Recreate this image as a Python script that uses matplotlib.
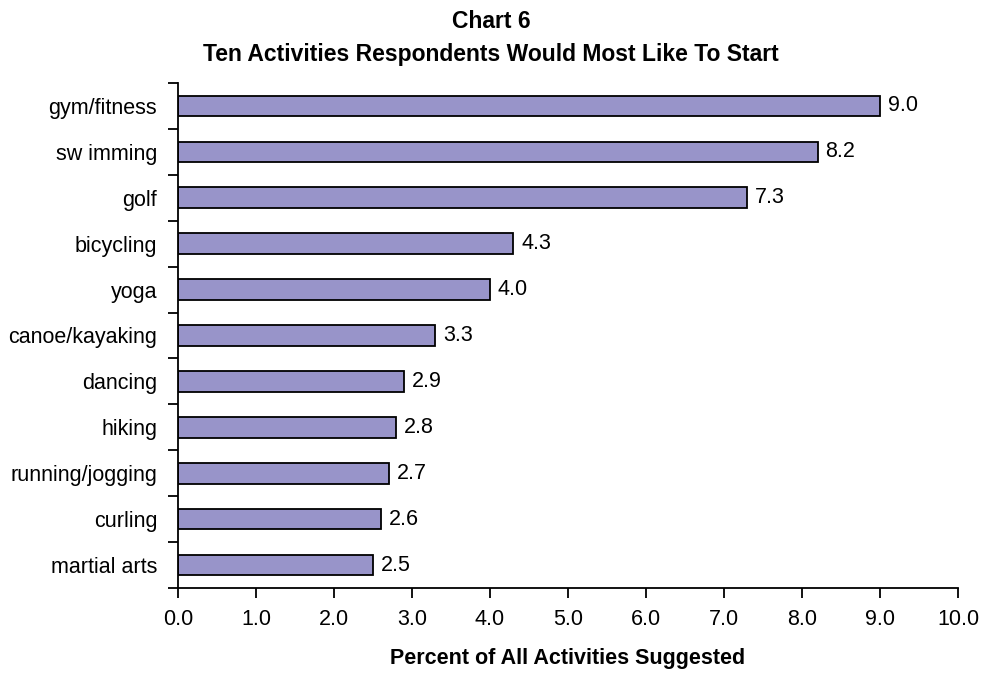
import matplotlib
matplotlib.use("Agg")
import matplotlib.pyplot as plt
import numpy as np
from matplotlib.ticker import FixedLocator

activities = ["gym/fitness", "sw imming", "golf", "bicycling", "yoga", "canoe/kayaking",
              "dancing", "hiking", "running/jogging", "curling", "martial arts"]
percent = [9.0, 8.2, 7.3, 4.3, 4.0, 3.3, 2.9, 2.8, 2.7, 2.6, 2.5]

BAR = "#9894C9"
plt.rcParams.update({"font.family": ["Liberation Sans", "DejaVu Sans"], "font.size": 15.5})

fig = plt.figure(figsize=(9.82, 6.73), dpi=100)
ax = fig.add_axes([0.1813, 0.1263, 0.7943, 0.7504])

y = np.arange(len(activities))
ax.barh(y, percent, height=0.45, color=BAR, edgecolor="black", linewidth=1.3)
for yi, v in zip(y, percent):
    ax.text(v + 0.1, yi, f"{v:.1f}", va="center", ha="left")

ax.set_ylim(len(activities) - 0.5, -0.5)
ax.set_xlim(0, 10)
ax.set_xticks(np.arange(0, 11, 1))
ax.set_xticklabels([f"{v:.1f}" for v in np.arange(0, 11, 1)])
ax.set_yticks(y)
ax.set_yticklabels(activities)
ax.tick_params(axis="y", which="major", length=0, pad=15)
# category separators drawn as outward minor ticks
ax.yaxis.set_minor_locator(FixedLocator(np.arange(-0.5, len(activities), 1)))
ax.tick_params(axis="y", which="minor", length=7, width=1.3, direction="out")
ax.tick_params(axis="x", length=7, width=1.3, direction="out", pad=8)

for side in ("top", "right"):
    ax.spines[side].set_visible(False)
for side in ("left", "bottom"):
    ax.spines[side].set_linewidth(1.3)

ax.set_xlabel("Percent of All Activities Suggested", fontweight="bold", labelpad=13)
fig.text(0.5, 1 - 21 / 673, "Chart 6", ha="center", va="center",
         fontweight="bold", fontsize=16.5)
fig.text(0.5, 1 - 54 / 673, "Ten Activities Respondents Would Most Like To Start",
         ha="center", va="center", fontweight="bold", fontsize=16.5)

fig.savefig("out.png", dpi=100)
